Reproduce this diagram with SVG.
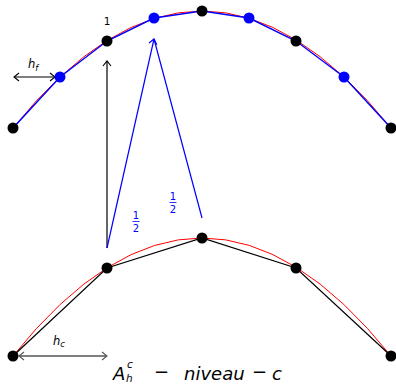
<svg xmlns="http://www.w3.org/2000/svg" width="396" height="385" viewBox="0 0 396 385">
<style>
.red{fill:none;stroke:#ff0000;stroke-width:1}
.bl{fill:none;stroke:#0000ff;stroke-width:1.4}
.bk{fill:none;stroke:#000;stroke-width:1.2}
.dk{fill:#000}
.db{fill:#0000ff}
.t{font-family:"DejaVu Sans",sans-serif;font-style:oblique}
.n{font-family:"DejaVu Sans",sans-serif}
</style>
<defs>
<marker id="ak" viewBox="-6 -5 8 10" markerWidth="8" markerHeight="10" refX="0" refY="0" orient="auto-start-reverse" markerUnits="userSpaceOnUse">
<path d="M-5,-4 L0,0 L-5,4" fill="none" stroke="#000" stroke-width="1.1"/>
</marker>
<marker id="ag" viewBox="-6 -5 8 10" markerWidth="8" markerHeight="10" refX="0" refY="0" orient="auto-start-reverse" markerUnits="userSpaceOnUse">
<path d="M-5,-4 L0,0 L-5,4" fill="none" stroke="#555" stroke-width="1.1"/>
</marker>
<marker id="ab" viewBox="-6 -5 8 10" markerWidth="8" markerHeight="10" refX="0" refY="0" orient="auto" markerUnits="userSpaceOnUse">
<path d="M-5,-4 L0,0 L-5,4" fill="none" stroke="#0000ff" stroke-width="1.2"/>
</marker>
</defs>
<g id="curves">
<path class="red" d="M13,128 Q202,-106 391,128"/>
<polyline class="bl" points="13,128 60,77 107,41 154,18 202,11 249,18 296,41 344,77 391,128"/>
<path class="red" d="M13,356 Q202,120 391,356"/>
<polyline class="bk" points="13,356 107,268 202,238 296,268 391,356"/>
</g>
<g id="connectors">
<line class="bk" x1="107" y1="248" x2="107" y2="61" marker-end="url(#ak)"/>
<line x1="107" y1="248" x2="154" y2="39" stroke="#0000ff" stroke-width="1.2" marker-end="url(#ab)"/>
<line x1="202" y1="218" x2="154" y2="39" stroke="#0000ff" stroke-width="1.2"/>
<line x1="14" y1="77" x2="55" y2="77" stroke="#000" stroke-width="1.1" marker-start="url(#ak)" marker-end="url(#ak)"/>
<line x1="19" y1="356" x2="107" y2="356" stroke="#555" stroke-width="1.3" marker-start="url(#ag)" marker-end="url(#ag)"/>
</g>
<g id="top-nodes">
<circle class="dk" cx="13" cy="128" r="5.5"/>
<circle class="db" cx="60" cy="77" r="5.5"/>
<circle class="dk" cx="107" cy="41" r="5.5"/>
<circle class="db" cx="154" cy="18" r="5.5"/>
<circle class="dk" cx="202" cy="11" r="5.5"/>
<circle class="db" cx="249" cy="18" r="5.5"/>
<circle class="dk" cx="296" cy="41" r="5.5"/>
<circle class="db" cx="344" cy="77" r="5.5"/>
<circle class="dk" cx="391" cy="128" r="5.5"/>
</g>
<g id="bottom-nodes">
<circle class="dk" cx="13" cy="356" r="5.5"/>
<circle class="dk" cx="107" cy="268" r="5.5"/>
<circle class="dk" cx="202" cy="238" r="5.5"/>
<circle class="dk" cx="296" cy="268" r="5.5"/>
<circle class="dk" cx="391" cy="356" r="5.5"/>
</g>
<g id="labels">
<text class="n" x="107" y="25" font-size="10.5" text-anchor="middle">1</text>
<text class="t" x="28" y="68" font-size="11.5">h<tspan font-size="8.5" dy="3">f</tspan></text>
<text class="t" x="53" y="345" font-size="11.5">h<tspan font-size="8.5" dy="2">c</tspan></text>
<g fill="#0000ff">
<text class="n" x="136" y="219" font-size="10" text-anchor="middle">1</text>
<line x1="132.5" y1="221.5" x2="139.5" y2="221.5" stroke="#0000ff" stroke-width="0.8"/>
<text class="n" x="136" y="232" font-size="10" text-anchor="middle">2</text>
<text class="n" x="173" y="200" font-size="10" text-anchor="middle">1</text>
<line x1="169.5" y1="202.5" x2="176.5" y2="202.5" stroke="#0000ff" stroke-width="0.8"/>
<text class="n" x="173" y="213" font-size="10" text-anchor="middle">2</text>
</g>
<g id="title">
<text class="t" x="113" y="380" font-size="18">A</text>
<text class="t" x="127" y="368" font-size="10.5">c</text>
<text class="t" x="126" y="382" font-size="10.5">h</text>
<text class="n" x="154" y="378" font-size="18">−</text>
<text class="t" x="184" y="380" font-size="18">niveau</text>
<text class="n" x="252" y="378" font-size="18">−</text>
<text class="t" x="272" y="380" font-size="18">c</text>
</g>
</g>
</svg>
